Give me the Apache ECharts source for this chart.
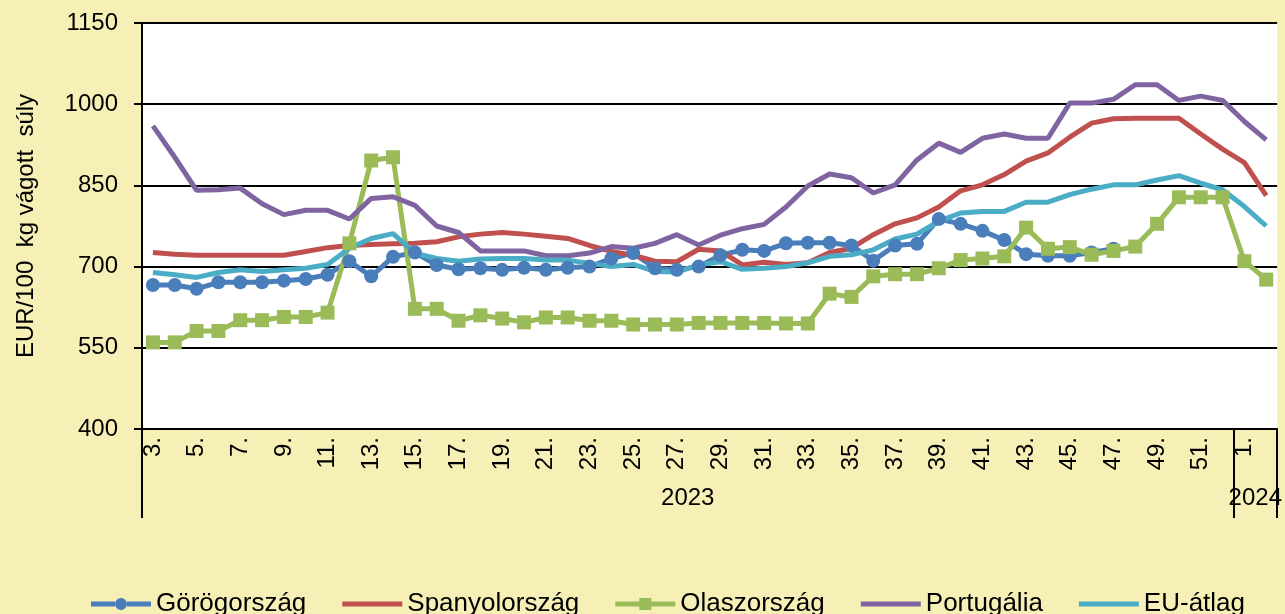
<!DOCTYPE html>
<html>
<head>
<meta charset="utf-8">
<script src="https://cdn.jsdelivr.net/npm/echarts@6/dist/echarts.min.js"></script>
<style>
  html, body { margin: 0; padding: 0; background: #F6F0B6; }
  #chart { width: 1285px; height: 614px; }
</style>
</head>
<body>
<div id="chart"></div>
<script>
// Weekly carcass prices, EUR/100 kg, week 3 of 2023 to week 2 of 2024
const weeks = ['3.', '4.', '5.', '6.', '7.', '8.', '9.', '10.', '11.', '12.',
  '13.', '14.', '15.', '16.', '17.', '18.', '19.', '20.', '21.', '22.',
  '23.', '24.', '25.', '26.', '27.', '28.', '29.', '30.', '31.', '32.',
  '33.', '34.', '35.', '36.', '37.', '38.', '39.', '40.', '41.', '42.',
  '43.', '44.', '45.', '46.', '47.', '48.', '49.', '50.', '51.', '52.',
  '1.', '2.'];

// Year groups along the category axis (number of weeks in each)
const yearGroups = [
  { year: '2023', count: 50 },
  { year: '2024', count: 2 }
];

const greece = [666, 666, 659, 671, 671, 671, 674, 677, 685, 710,
  682, 718, 726, 703, 695, 697, 694, 698, 694, 698,
  700, 715, 725, 697, 694, 700, 721, 731, 729, 743,
  744, 744, 739, 711, 739, 742, 788, 779, 766, 749,
  723, 720, 720, 726, 733, null, null, null, null, null,
  null, null];

const spain = [726, 723, 721, 721, 721, 721, 721, 728, 735, 739,
  741, 742, 743, 746, 755, 760, 763, 760, 756, 752,
  739, 728, 721, 710, 709, 732, 729, 703, 708, 704,
  707, 726, 734, 759, 779, 790, 810, 840, 851, 870,
  895, 910, 939, 965, 973, 974, 974, 974, 945, 917,
  892, 831];

const italy = [560, 560, 581, 581, 601, 601, 607, 607, 615, 743,
  896, 902, 622, 622, 600, 610, 604, 597, 606, 606,
  600, 600, 593, 593, 593, 596, 596, 596, 596, 595,
  595, 650, 644, 682, 686, 686, 697, 712, 715, 719,
  772, 733, 736, 722, 729, 737, 779, 828, 828, 828,
  710, 676];

const portugal = [960, 902, 841, 842, 845, 816, 796, 804, 804, 788,
  826, 829, 813, 775, 763, 729, 729, 729, 720, 720,
  725, 737, 734, 743, 759, 740, 758, 770, 778, 810,
  849, 871, 864, 836, 851, 897, 928, 911, 937, 945,
  937, 937, 1002, 1002, 1009, 1036, 1036, 1007, 1015, 1007,
  968, 934];

const euAverage = [689, 685, 680, 689, 694, 691, 694, 697, 704, 734,
  752, 761, 725, 715, 710, 714, 715, 715, 712, 712,
  706, 700, 704, 691, 690, 703, 709, 695, 697, 700,
  707, 719, 722, 731, 751, 760, 784, 799, 802, 802,
  819, 819, 833, 843, 851, 851, 860, 868, 854, 842,
  811, 775];

const seriesNames = ['Görögország', 'Spanyolország', 'Olaszország', 'Portugália', 'EU-átlag'];
const seriesColors = ['#4A7EBB', '#C0504D', '#9BBB59', '#8064A2', '#4BACC6'];
const yTicks = { min: 400, max: 1150, step: 150 };

// Group boundaries (first index of each year) and the index that carries the year label
const groupStarts = [];
const groupLabelAt = {};
let acc = 0;
yearGroups.forEach(g => {
  groupStarts.push(acc);
  groupLabelAt[acc + Math.ceil(g.count / 2) - 1] = g.year;
  acc += g.count;
});

const FONT = 'Liberation Sans, Arial, sans-serif';
const gridLeft = 142, gridRight = 7;
const bandWidth = (1285 - gridLeft - gridRight) / weeks.length;

// Legend icons: a thick line, optionally with a marker in the middle.
// The leading moves fix the icon's bounding box to 60 x 14.
const ICON_BOX = 'M0,0 M60,14 ';
const iconLine = 'path://' + ICON_BOX + 'M0,4.5 L60,4.5 L60,9.5 L0,9.5 Z';
const iconCircle = 'path://' + ICON_BOX +
  'M0,4.5 L24,4.5 L24,9.5 L0,9.5 Z M36,4.5 L60,4.5 L60,9.5 L36,9.5 Z ' +
  'M24,7 A6,6 0 1,1 36,7 A6,6 0 1,1 24,7 Z';
const iconSquare = 'path://' + ICON_BOX +
  'M0,4.5 L24,4.5 L24,9.5 L0,9.5 Z M36,4.5 L60,4.5 L60,9.5 L36,9.5 Z ' +
  'M24,1 L36,1 L36,13 L24,13 Z';
const legendIcons = [iconCircle, iconLine, iconSquare, iconLine, iconLine];

const chart = echarts.init(document.getElementById('chart'), null, { renderer: 'canvas' });

function lineSeries(i, data, symbol) {
  return {
    name: seriesNames[i],
    type: 'line',
    data: data,
    symbol: symbol || 'none',
    symbolSize: 14,
    showSymbol: !!symbol,
    connectNulls: false,
    lineStyle: { width: 5, color: seriesColors[i] },
    itemStyle: { color: seriesColors[i] },
    emphasis: { disabled: true }
  };
}

chart.setOption({
  animation: false,
  backgroundColor: '#F6F0B6',
  textStyle: { fontFamily: FONT },
  grid: {
    left: gridLeft, right: gridRight, top: 23, bottom: 185,
    show: true, backgroundColor: '#FFFFFF', borderWidth: 0
  },
  legend: {
    left: 86, top: 586,
    itemWidth: 60, itemHeight: 14, itemGap: 36,
    textStyle: { fontFamily: FONT, fontSize: 26, color: '#000' },
    data: seriesNames.map((n, i) => ({ name: n, icon: legendIcons[i] }))
  },
  xAxis: [
    {
      type: 'category',
      data: weeks,
      boundaryGap: true,
      axisLine: { show: true, lineStyle: { color: '#000', width: 2 } },
      axisTick: { show: false },
      axisLabel: {
        interval: 1, rotate: 90, margin: 8,
        fontFamily: FONT, fontSize: 24, color: '#000'
      },
      splitLine: { show: false }
    },
    {
      type: 'category',
      data: weeks,
      position: 'bottom',
      boundaryGap: true,
      axisLine: { show: false },
      axisTick: {
        show: true,
        interval: (idx) => groupStarts.indexOf(idx) >= 0,
        length: 89,
        lineStyle: { color: '#000', width: 2 }
      },
      axisLabel: {
        interval: (idx) => groupLabelAt[idx] !== undefined,
        formatter: (val, idx) => groupLabelAt[idx] || '',
        margin: 57,
        padding: [0, 0, 0, bandWidth],
        fontFamily: FONT, fontSize: 24, color: '#000'
      },
      splitLine: { show: false }
    }
  ],
  yAxis: {
    type: 'value',
    min: yTicks.min, max: yTicks.max, interval: yTicks.step,
    name: 'EUR/100  kg vágott  súly',
    nameLocation: 'middle',
    nameGap: 104,
    nameTextStyle: { fontFamily: FONT, fontSize: 24, color: '#000' },
    axisLine: { show: true, lineStyle: { color: '#000', width: 2 } },
    axisTick: { show: true, length: 8, lineStyle: { color: '#000', width: 2 } },
    axisLabel: {
      margin: 24, fontFamily: FONT, fontSize: 24, color: '#000',
      formatter: (v) => String(v)
    },
    splitLine: { show: true, lineStyle: { color: '#000', width: 2 } }
  },
  series: [
    lineSeries(0, greece, 'circle'),
    lineSeries(1, spain),
    lineSeries(2, italy, 'rect'),
    lineSeries(3, portugal),
    lineSeries(4, euAverage)
  ]
});
</script>
</body>
</html>
